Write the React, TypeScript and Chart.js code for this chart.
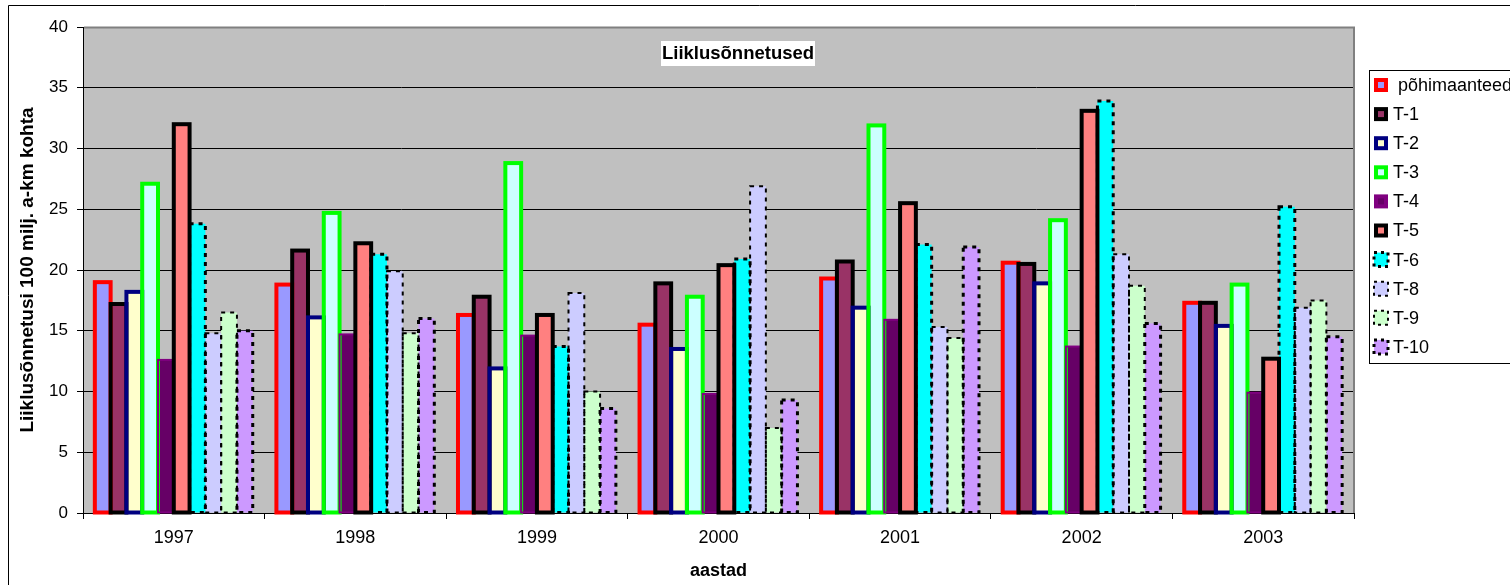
import React, { useEffect, useRef } from "react";
import { Chart, registerables } from "chart.js";

Chart.register(...registerables);

// ---------- data ----------
const years = ["1997", "1998", "1999", "2000", "2001", "2002", "2003"];
const seriesNames = [" põhimaanteed", "T-1", "T-2", "T-3", "T-4", "T-5", "T-6", "T-8", "T-9", "T-10"];

const pohimaanteed = [19.0, 18.8, 16.3, 15.5, 19.3, 20.6, 17.3];
const t1 = [17.2, 21.6, 17.8, 18.9, 20.7, 20.5, 17.3];
const t2 = [18.2, 16.1, 11.9, 13.5, 16.9, 18.9, 15.4];
const t3 = [27.1, 24.7, 28.8, 17.8, 31.9, 24.1, 18.8];
const t4 = [12.6, 14.7, 14.6, 9.8, 15.9, 13.7, 9.9];
const t5 = [32.0, 22.2, 16.3, 20.4, 25.5, 33.1, 12.7];
const t6 = [23.8, 21.3, 13.7, 20.9, 22.1, 33.9, 25.2];
const t8 = [14.8, 19.9, 18.1, 26.9, 15.3, 21.3, 16.9];
const t9 = [16.5, 14.8, 10.0, 7.0, 14.4, 18.7, 17.5];
const t10 = [15.0, 16.0, 8.6, 9.3, 21.9, 15.6, 14.5];

const seriesValues = [pohimaanteed, t1, t2, t3, t4, t5, t6, t8, t9, t10];

const yMin = 0;
const yMax = 40;
const yStep = 5;

const chartTitle = "Liiklusõnnetused";
const yTitle = "Liiklusõnnetusi 100 milj. a-km kohta";
const xTitle = "aastad";

// ---------- styles ----------
const fillColors = ["#9999FF", "#993366", "#FFFFCC", "#CCFFFF", "#660066", "#FF8080", "#00FFFF", "#CCCCFF", "#CCFFCC", "#CC99FF"];
const edgeColors = ["#FF0000", "#000000", "#000080", "#00FF00", "#800080", "#000000", "#000000", "#000000", "#000000", "#000000"];
const edgeWidths = [4, 4, 4, 4, 2, 4, 3, 2, 2, 3];
const edgeDashed = [false, false, false, false, false, false, true, true, true, true];

const FONT = "'Liberation Sans', Arial, sans-serif";

const frameAndBorders = {
  id: "frameAndBorders",
  beforeDraw(chart: any) {
    const { ctx, chartArea: a } = chart;
    ctx.save();
    ctx.fillStyle = "#FFFFFF";
    ctx.fillRect(0, 0, chart.width, chart.height);
    // outer chart frame
    ctx.strokeStyle = "#000000";
    ctx.lineWidth = 1;
    ctx.beginPath();
    ctx.moveTo(8.5, chart.height + 2);
    ctx.lineTo(8.5, 5.5);
    ctx.lineTo(chart.width + 2, 5.5);
    ctx.stroke();
    // plot area background
    ctx.fillStyle = "#C0C0C0";
    ctx.fillRect(a.left, a.top, a.right - a.left, a.bottom - a.top);
    ctx.restore();
  },
  afterDatasetsDraw(chart: any) {
    const { ctx } = chart;
    ctx.save();
    chart.data.datasets.forEach((ds: any, i: number) => {
      const meta = chart.getDatasetMeta(i);
      ctx.lineWidth = edgeWidths[i];
      ctx.strokeStyle = edgeColors[i];
      ctx.setLineDash(edgeDashed[i] ? [4, 5] : []);
      meta.data.forEach((el: any) => {
        const { x, y, base, width } = el.getProps(["x", "y", "base", "width"], true);
        ctx.strokeRect(x - width / 2, y, width, base - y);
      });
    });
    ctx.restore();
  },
  afterDraw(chart: any) {
    const { ctx, chartArea: a } = chart;
    ctx.save();
    // gray top/right plot border
    ctx.strokeStyle = "#808080";
    ctx.lineWidth = 2;
    ctx.beginPath();
    ctx.moveTo(a.left + 1, a.top + 0.5);
    ctx.lineTo(a.right, a.top + 0.5);
    ctx.lineTo(a.right, a.bottom);
    ctx.stroke();

    // title inside plot
    const tx = a.left + 578;
    const ty = a.top + 14;
    ctx.fillStyle = "#FFFFFF";
    ctx.fillRect(tx, ty, 154, 25);
    ctx.fillStyle = "#000000";
    ctx.font = `bold 18.5px ${FONT}`;
    ctx.textAlign = "center";
    ctx.textBaseline = "middle";
    ctx.fillText(chartTitle, tx + 77, ty + 13);

    // legend
    const lx = a.right + 15;
    const ly = 70;
    ctx.strokeStyle = "#000000";
    ctx.lineWidth = 1;
    ctx.setLineDash([]);
    ctx.strokeRect(lx + 0.5, ly + 0.5, 400, 293);
    ctx.font = `18px ${FONT}`;
    ctx.textAlign = "left";
    chart.data.datasets.forEach((ds: any, i: number) => {
      const cy = ly + 15 + i * 29.1;
      const mx = lx + 5;
      const my = cy - 7;
      const s = 14;
      if (edgeDashed[i]) {
        ctx.fillStyle = fillColors[i];
        ctx.fillRect(mx, my, s, s);
        ctx.strokeStyle = "#000000";
        ctx.lineWidth = edgeWidths[i];
        ctx.setLineDash([3, 4]);
        ctx.strokeRect(mx, my, s, s);
        ctx.setLineDash([]);
      } else {
        ctx.fillStyle = edgeColors[i];
        ctx.fillRect(mx, my, s, s);
        ctx.fillStyle = fillColors[i];
        ctx.fillRect(mx + 4, my + 4, s - 8, s - 8);
      }
      ctx.fillStyle = "#000000";
      ctx.fillText(ds.label, lx + 24, cy + 1);
    });
    ctx.restore();
  },
};

export default function App() {
  const canvasRef = useRef<HTMLCanvasElement | null>(null);

  useEffect(() => {
    const canvas = canvasRef.current;
    if (!canvas) return;
    document.body.style.overflow = "hidden";

    const datasets = seriesValues.map((vals, i) => ({
      label: seriesNames[i],
      data: vals,
      backgroundColor: fillColors[i],
      borderWidth: 0,
      categoryPercentage: 10 / 11.5,
      barPercentage: 1,
    }));

    const chart = new Chart(canvas, {
      type: "bar",
      data: { labels: years, datasets },
      plugins: [frameAndBorders],
      options: {
        animation: false,
        responsive: false,
        devicePixelRatio: 1,
        layout: { padding: { left: 0, top: 27, right: 156, bottom: 0 } },
        plugins: {
          legend: { display: false },
          title: { display: false },
          tooltip: { enabled: false },
        },
        scales: {
          x: {
            grid: {
              display: true,
              drawOnChartArea: false,
              drawTicks: true,
              tickLength: 6,
              color: "#000000",
              offset: true,
            },
            border: { display: true, color: "#000000", width: 1 },
            ticks: {
              color: "#000000",
              font: { family: FONT, size: 18 },
              padding: 8,
              maxRotation: 0,
            },
            title: {
              display: true,
              text: xTitle,
              color: "#000000",
              font: { family: FONT, size: 18, weight: "bold" },
              padding: { top: 0, bottom: 3 },
            },
            afterFit: (scale: any) => {
              scale.height = 72;
            },
          },
          y: {
            min: yMin,
            max: yMax,
            ticks: {
              stepSize: yStep,
              color: "#000000",
              font: { family: FONT, size: 17 },
              padding: 9,
            },
            grid: {
              color: "#000000",
              lineWidth: 1,
              tickLength: 6,
              drawTicks: true,
            },
            border: { display: true, color: "#000000", width: 1 },
            title: {
              display: true,
              text: yTitle,
              color: "#000000",
              font: { family: FONT, size: 19, weight: "bold" },
              padding: { top: 16, bottom: 0 },
            },
            afterFit: (scale: any) => {
              scale.width = 83;
            },
          },
        },
      } as any,
    });

    return () => {
      chart.destroy();
    };
  }, []);

  return (
    <div style={{ position: "absolute", left: 0, top: 0, width: 1510, height: 585, overflow: "hidden" }}>
      <canvas ref={canvasRef} width={1510} height={585} style={{ display: "block", width: 1510, height: 585 }} />
    </div>
  );
}
